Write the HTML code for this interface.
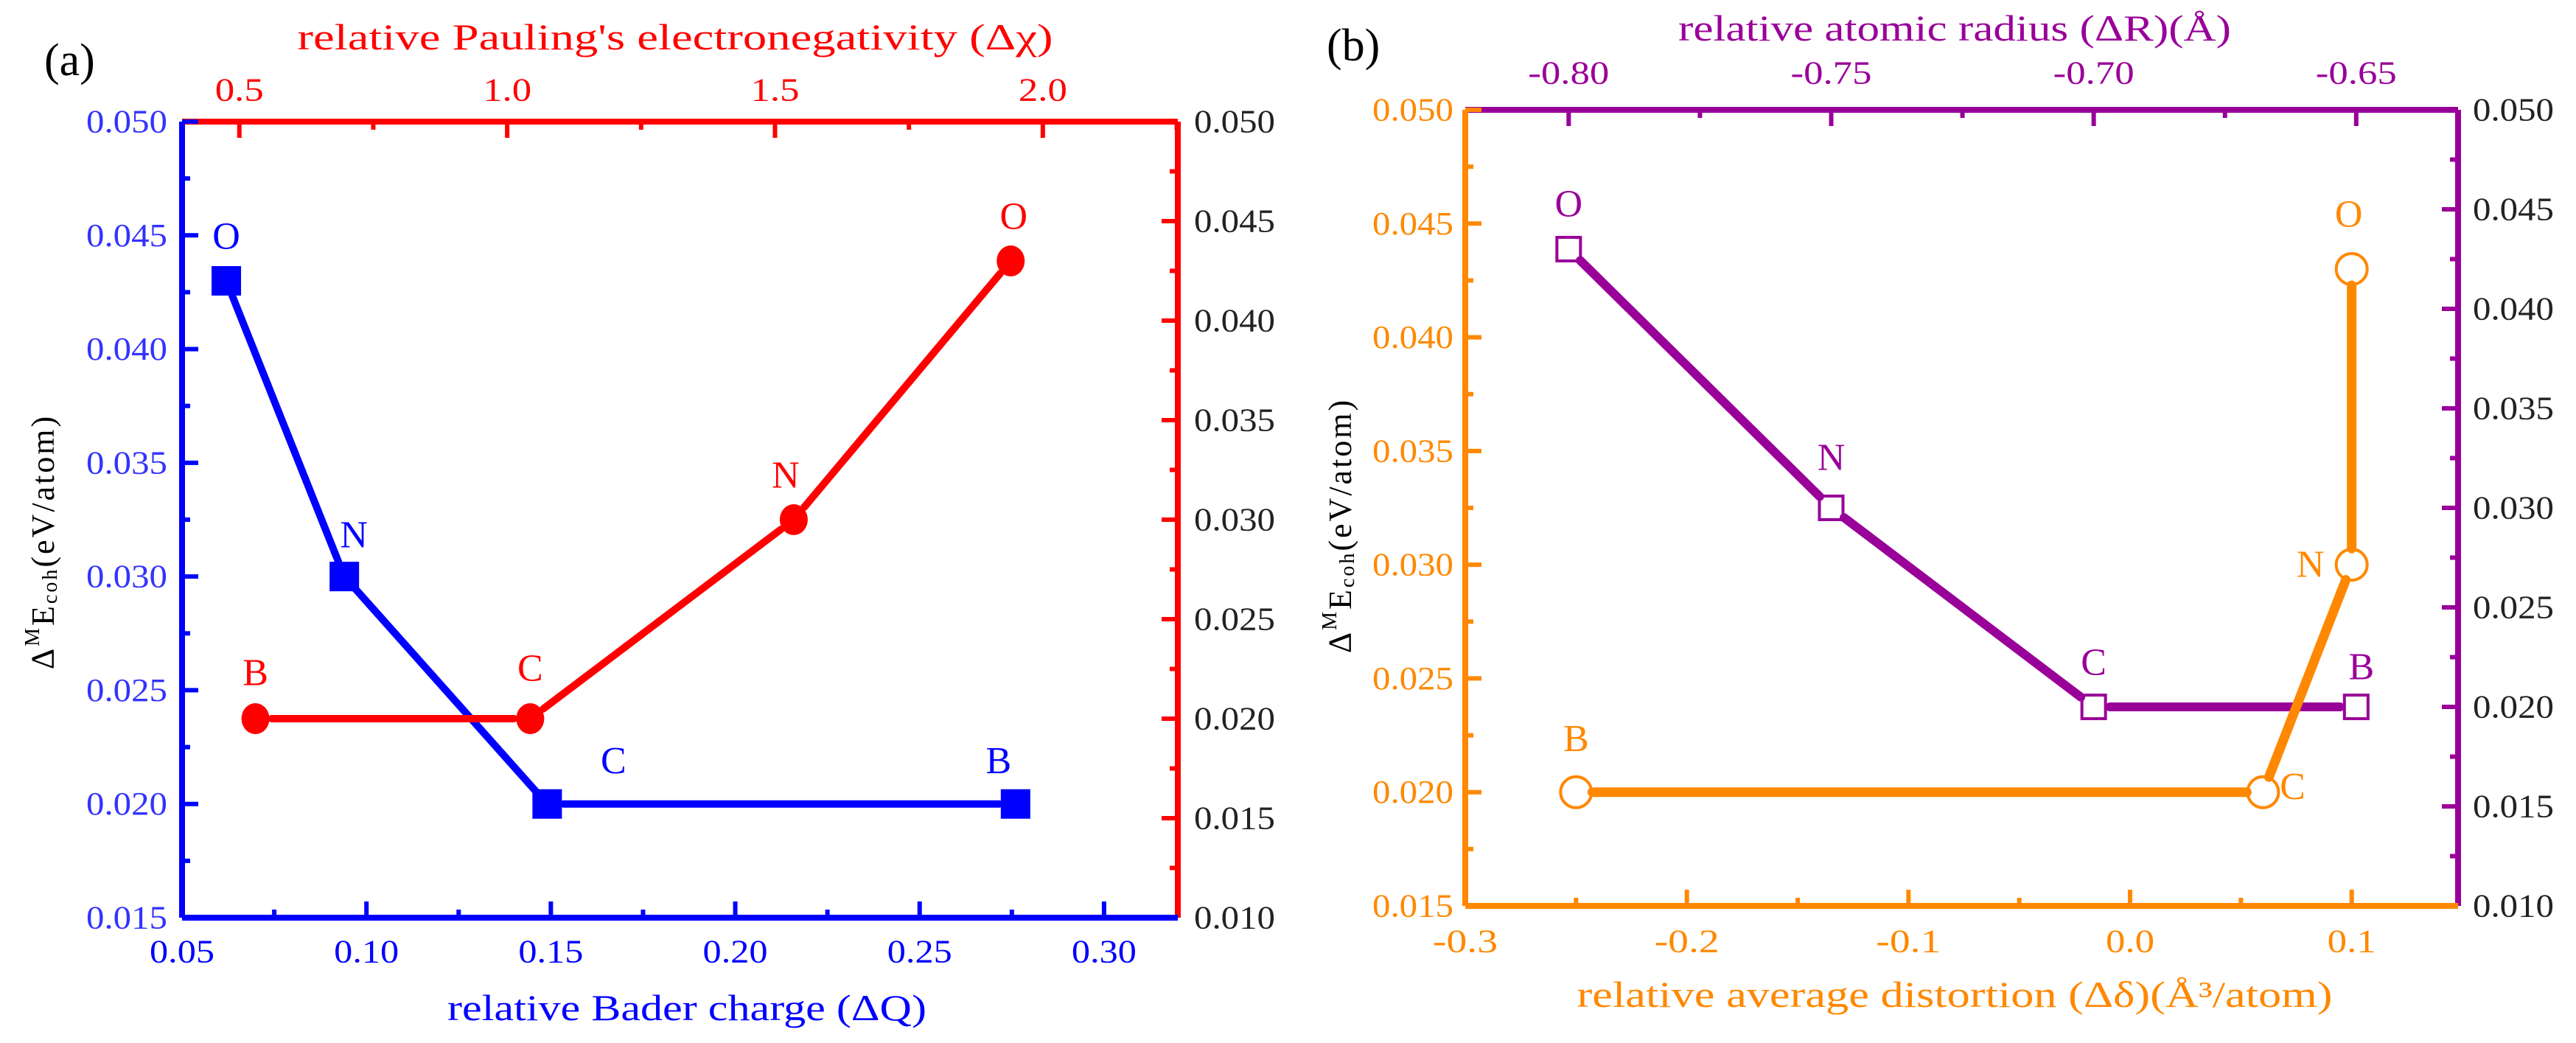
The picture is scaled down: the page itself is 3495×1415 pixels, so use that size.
<!DOCTYPE html>
<html><head><meta charset="utf-8"><style>
html,body{margin:0;padding:0;background:#fff;}
svg{display:block;}
text{font-family:"Liberation Serif","Noto Serif CJK SC",serif;}
</style></head>
<body>
<svg id="chart" width="3495" height="1415" viewBox="0 0 3495 1415" xmlns="http://www.w3.org/2000/svg"></svg>
<script>
// ---- Panel (a) data ----
const baderCharge = [0.062, 0.094, 0.149, 0.276];
const baderEcoh = [0.043, 0.030, 0.020, 0.020];
const baderLabels = ["O", "N", "C", "B"];
const paulingChi = [0.53, 1.043, 1.535, 1.94];
const paulingEcoh = [0.020, 0.020, 0.030, 0.043];
const paulingLabels = ["B", "C", "N", "O"];
// ---- Panel (b) data ----
const radiusR = [-0.80, -0.75, -0.70, -0.65];
const radiusEcoh = [0.043, 0.030, 0.020, 0.020];
const radiusLabels = ["O", "N", "C", "B"];
const distortion = [-0.25, 0.06, 0.10, 0.10];
const distortionEcoh = [0.020, 0.020, 0.030, 0.043];
const distortionLabels = ["B", "C", "N", "O"];
// tick labels
const aBottomTicks = ["0.05","0.10","0.15","0.20","0.25","0.30"];
const aTopTicks = ["0.5","1.0","1.5","2.0"];
const aLeftTicks = ["0.015","0.020","0.025","0.030","0.035","0.040","0.045","0.050"];
const aRightTicks = ["0.010","0.015","0.020","0.025","0.030","0.035","0.040","0.045","0.050"];
const bBottomTicks = ["-0.3","-0.2","-0.1","0.0","0.1"];
const bTopTicks = ["-0.80","-0.75","-0.70","-0.65"];
const bLeftTicks = aLeftTicks;
const bRightTicks = aRightTicks;

const NS = "http://www.w3.org/2000/svg";
const svg = document.getElementById('chart');
function el(tag, attrs, parent, txt){
  const e = document.createElementNS(NS, tag);
  for (const k in attrs) e.setAttribute(k, attrs[k]);
  if (txt !== undefined) e.textContent = txt;
  (parent || svg).appendChild(e);
  return e;
}
function lin(d0,d1,r0,r1){ return v => r0 + (v-d0)/(d1-d0)*(r1-r0); }
function tlab(x,y,s,color,anchor,name,size){
  const fs = size||44;
  const t = el('text',{x:x,y:y,fill:color,'font-size':fs,'text-anchor':anchor,'dominant-baseline':'central',textLength:s.length*fs*0.5,lengthAdjust:'spacingAndGlyphs'},null,s);
  
  
  return t;
}
function hAxis(scale, y, x0, x1, color, step, minor, labels, dir, labY, name){
  const l = el('line',{x1:x0,y1:y,x2:x1,y2:y,stroke:color,'stroke-width':8});
  
  
  const d0 = parseFloat(labels[0]);
  const nMaj = labels.length;
  for (let i=0;i<nMaj*2+2;i++){
    const v = d0 + i*step/2 - step/2;
    const x = scale(v);
    if (x < x0-1 || x > x1+1) continue;
    const major = i%2===1;
    el('line',{x1:x,y1:y,x2:x,y2:y+dir*(major?22:11),stroke:color,'stroke-width':6});
  }
  labels.forEach((s,i)=>{ tlab(scale(d0+i*step), labY, s, color, 'middle', name+'-tick-label'); });
}
function vAxis(scale, x, y0, y1, color, step, labels, dir, labX, anchor, labColor, name){
  const l = el('line',{x1:x,y1:y0,x2:x,y2:y1,stroke:color,'stroke-width':8});
  
  
  const d0 = parseFloat(labels[0]);
  for (let i=0;i<labels.length*2-1;i++){
    const v = d0 + i*step/2;
    const y = scale(v);
    const major = i%2===0;
    el('line',{x1:x,y1:y,x2:x+dir*(major?22:11),y2:y,stroke:color,'stroke-width':6});
  }
  labels.forEach((s,i)=>{ tlab(labX, scale(d0+i*step), s, labColor, anchor, name+'-tick-label'); });
}
function series(xs, ys, sx, sy, color, lw, name){
  const g = el('g',{});
  
  
  for (let i=0;i<xs.length-1;i++){
    const ax=sx(xs[i]), ay=sy(ys[i]), bx=sx(xs[i+1]), by=sy(ys[i+1]);
    const dx=bx-ax, dy=by-ay, L=Math.hypot(dx,dy)||1, g0=22;
    el('line',{x1:ax+dx/L*g0,y1:ay+dy/L*g0,x2:bx-dx/L*g0,y2:by-dy/L*g0,stroke:color,'stroke-width':lw,'stroke-linecap':'round'},g);
  }
  return g;
}
function plabel(x,y,s,color,name){
  const t2 = el('text',{x:x,y:y,fill:color,'font-size':52,'text-anchor':'middle','dominant-baseline':'central'},null,s);
  
  
}

// ===== Panel (a) =====
const aL=247, aR=1598, aT=165, aB=1245;
const axQ = lin(0.05,0.32,aL,aR);
const axChi = lin(0.393,2.252,aL,aR);
const ayL = lin(0.015,0.050,aB,aT);
const ayR = lin(0.010,0.050,aB,aT);
vAxis(ayR, aR, aT, aB, '#ff0000', 0.005, aRightTicks, -1, aR+22, 'start', '#222', 'a-right-axis');
hAxis(axChi, aT, aL, aR, '#ff0000', 0.5, 0, aTopTicks, 1, 122, 'a-top-axis');
vAxis(ayL, aL, aT, aB, '#0000ff', 0.005, aLeftTicks, 1, aL-20, 'end', '#3333ff', 'a-left-axis');
hAxis(axQ, aB, aL, aR, '#0000ff', 0.05, 0, aBottomTicks, -1, 1291, 'a-bottom-axis');
series(baderCharge, baderEcoh, axQ, ayL, '#0000ff', 10, 'bader-line');
baderCharge.forEach((v,i)=>{
  const r = el('rect',{x:axQ(v)-20,y:ayL(baderEcoh[i])-20,width:40,height:40,fill:'#0000ff'});
  
  
});
const baderOff = [[0,-60],[13,-56],[90,-58],[-23,-58]];
baderLabels.forEach((s,i)=>plabel(axQ(baderCharge[i])+baderOff[i][0], ayL(baderEcoh[i])+baderOff[i][1], s, '#0000ff', 'bader-point-label'));
series(paulingChi, paulingEcoh, axChi, ayR, '#ff0000', 10, 'pauling-line');
paulingChi.forEach((v,i)=>{
  const c = el('ellipse',{cx:axChi(v),cy:ayR(paulingEcoh[i]),rx:19,ry:21,fill:'#ff0000'});
  
  
});
const paulOff = [[0,-62],[0,-68],[-11,-60],[4,-60]];
paulingLabels.forEach((s,i)=>plabel(axChi(paulingChi[i])+paulOff[i][0], ayR(paulingEcoh[i])+paulOff[i][1], s, '#ff0000', 'pauling-point-label'));
let t;
t = el('text',{x:60,y:82,'font-size':62,fill:'#000','font-family':'Liberation Sans','dominant-baseline':'central'},null,'(a)');
 
t = tlab(916,50,"relative Pauling's electronegativity (Δχ)",'#ff0000','middle','a-top-axis-title',50);
t = tlab(932,1367,"relative Bader charge (ΔQ)",'#0000ff','middle','a-bottom-axis-title',50);
t = el('text',{x:0,y:0,'font-size':44,fill:'#000','text-anchor':'middle','dominant-baseline':'central','letter-spacing':'3',transform:'translate(58,735) rotate(-90)'},null);
t.innerHTML = 'Δ<tspan font-size="28" dy="-14">M</tspan><tspan dy="14">E</tspan><tspan font-size="28" dy="10">coh</tspan><tspan dy="-10">(eV/atom)</tspan>';
 

// ===== Panel (b) =====
const bL=1988, bR=3335, bT=149, bB=1229;
const bxD = lin(-0.3,0.148,bL,bR);
const bxR = lin(-0.8197,-0.6306,bL,bR);
const byL = lin(0.015,0.050,bB,bT);
const byR = lin(0.010,0.050,bB,bT);
vAxis(byR, bR, bT, bB, '#990099', 0.005, bRightTicks, -1, bR+20, 'start', '#222', 'b-right-axis');
hAxis(bxR, bT, bL, bR, '#990099', 0.05, 0, bTopTicks, 1, 99, 'b-top-axis');
vAxis(byL, bL, bT, bB, '#ff8800', 0.005, bLeftTicks, 1, bL-16, 'end', '#ff8800', 'b-left-axis');
hAxis(bxD, bB, bL, bR, '#ff8800', 0.1, 0, bBottomTicks, -1, 1277, 'b-bottom-axis');
series(radiusR, radiusEcoh, bxR, byR, '#990099', 12, 'radius-line');
radiusR.forEach((v,i)=>{
  const r = el('rect',{x:bxR(v)-16,y:byR(radiusEcoh[i])-16,width:32,height:32,fill:'none',stroke:'#990099','stroke-width':4});
  
  
});
const radOff = [[0,-61],[0,-68],[0,-60],[7,-54]];
radiusLabels.forEach((s,i)=>plabel(bxR(radiusR[i])+radOff[i][0], byR(radiusEcoh[i])+radOff[i][1], s, '#990099', 'radius-point-label'));
series(distortion, distortionEcoh, bxD, byL, '#ff8800', 13, 'distortion-line');
distortion.forEach((v,i)=>{
  const c = el('circle',{cx:bxD(v),cy:byL(distortionEcoh[i]),r:21,fill:'none',stroke:'#ff8800','stroke-width':4});
  
  
});
const disOff = [[0,-72],[40,-7],[-56,0],[-4,-74]];
distortionLabels.forEach((s,i)=>plabel(bxD(distortion[i])+disOff[i][0], byL(distortionEcoh[i])+disOff[i][1], s, '#ff8800', 'distortion-point-label'));
t = el('text',{x:1800,y:62,'font-size':62,fill:'#000','font-family':'Liberation Sans','dominant-baseline':'central'},null,'(b)');
 
t = tlab(2652,38,"relative atomic radius (ΔR)(Å)",'#990099','middle','b-top-axis-title',50);
t = tlab(2652,1349,"relative average distortion (Δδ)(Å³/atom)",'#ff8800','middle','b-bottom-axis-title',50);
t = el('text',{x:0,y:0,'font-size':44,fill:'#000','text-anchor':'middle','dominant-baseline':'central','letter-spacing':'3',transform:'translate(1818,713) rotate(-90)'},null);
t.innerHTML = 'Δ<tspan font-size="28" dy="-14">M</tspan><tspan dy="14">E</tspan><tspan font-size="28" dy="10">coh</tspan><tspan dy="-10">(eV/atom)</tspan>';
 
</script>
</body></html>
